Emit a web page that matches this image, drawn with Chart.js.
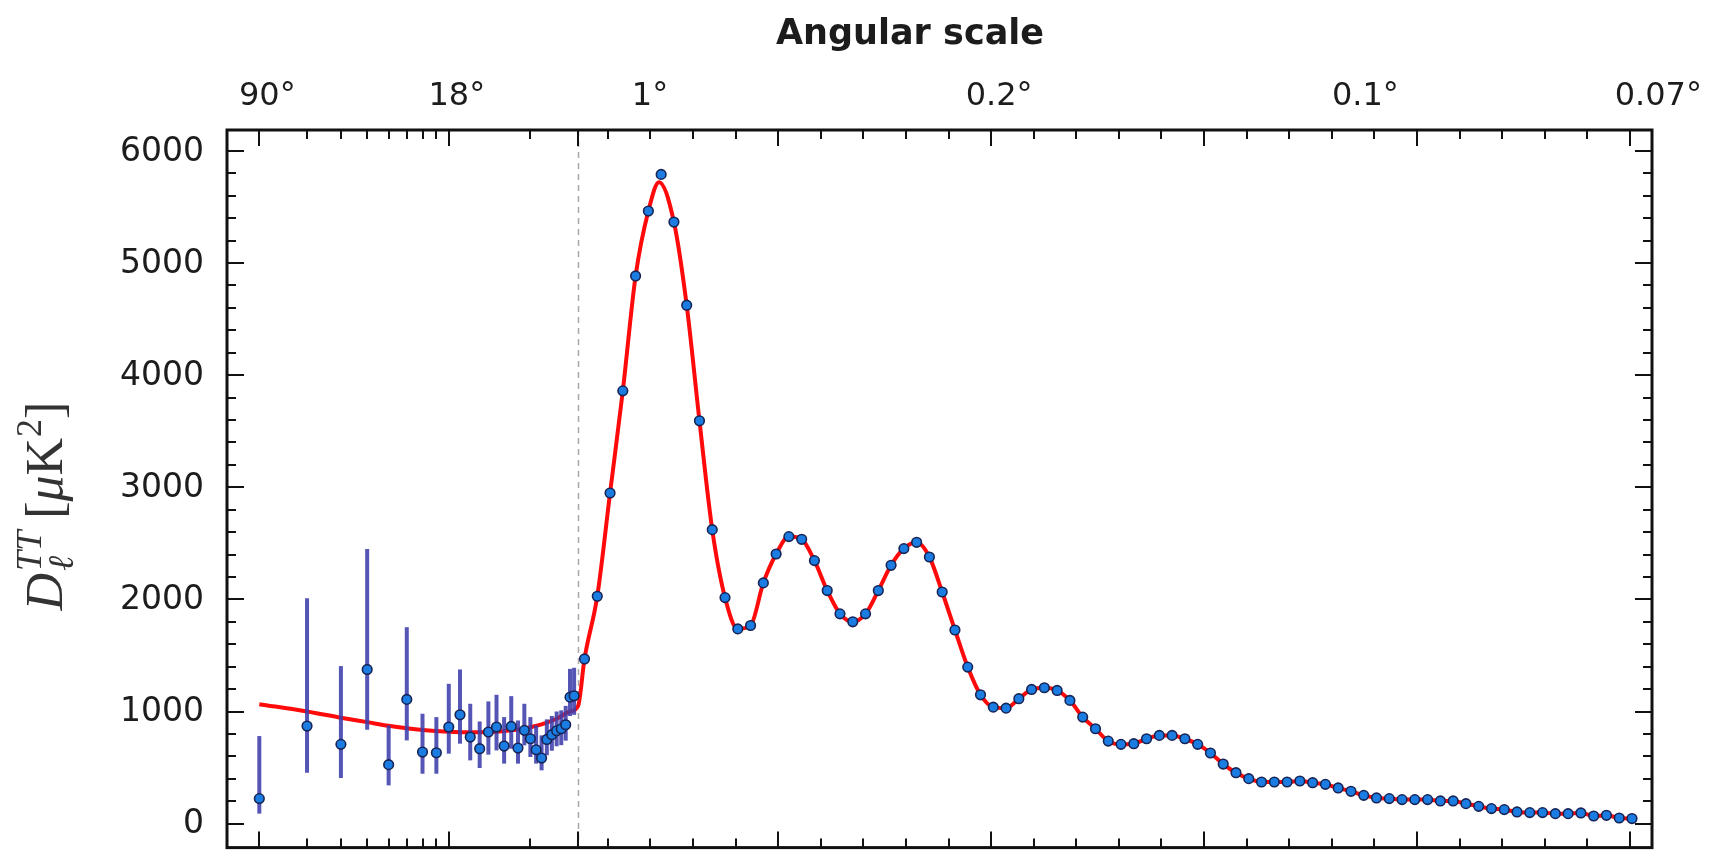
<!DOCTYPE html>
<html>
<head>
<meta charset="utf-8">
<title>CMB temperature power spectrum</title>
<script src="https://cdn.jsdelivr.net/npm/chart.js@4.4.1/dist/chart.umd.min.js"></script>
<style>
  html, body { margin: 0; padding: 0; background: #fff; }
  #wrap { width: 1734px; height: 854px; }
  canvas { display: block; }
</style>
</head>
<body>
<div id="wrap"><canvas id="spectrum" width="1734" height="854"></canvas></div>
<script>
// ---------------------------------------------------------------
// Low multipoles: one point per ℓ, with asymmetric error bars
// ---------------------------------------------------------------
const ellLow = [2, 3, 4, 5, 6, 7, 8, 9, 10, 11, 12, 13, 14, 15, 16, 17, 18, 19, 20, 21, 22, 23, 24, 25, 26, 27, 28, 29];
const dLow = [223, 870, 707, 1375, 526, 1108, 638, 632, 861, 971, 772, 668, 817, 861, 692, 867, 674, 832, 757, 659, 585, 751, 793, 828, 846, 882, 1128, 1140];
const dLowBottom = [89, 454, 407, 837, 341, 742, 445, 445, 624, 713, 564, 496, 615, 653, 535, 668, 535, 698, 594, 535, 475, 610, 650, 690, 700, 740, 960, 970];
const dLowTop = [781, 2011, 1405, 2450, 876, 1752, 980, 950, 1247, 1375, 1069, 911, 1090, 1149, 950, 1137, 920, 1069, 950, 876, 787, 930, 960, 1000, 1010, 1050, 1380, 1390];

// ---------------------------------------------------------------
// High multipoles: band powers in bins of width Δℓ = 30
// ---------------------------------------------------------------
const ellBinned = [45, 75, 105, 135, 165, 195, 225, 255, 285, 315, 345, 375, 405, 435, 465, 495, 525, 555, 585, 615,
  645, 675, 705, 735, 765, 795, 825, 855, 885, 915, 945, 975, 1005, 1035, 1065, 1095, 1125, 1155, 1185, 1215,
  1245, 1275, 1305, 1335, 1365, 1395, 1425, 1455, 1485, 1515, 1545, 1575, 1605, 1635, 1665, 1695, 1725, 1755, 1785, 1815,
  1845, 1875, 1905, 1935, 1965, 1995, 2025, 2055, 2085, 2115, 2145, 2175, 2205, 2235, 2265, 2295, 2325, 2355, 2385, 2415,
  2445, 2475, 2505];
const dBinned = [1469, 2028, 2949, 3860, 4885, 5464, 5791, 5366, 4624, 3593, 2622, 2016, 1737, 1767, 2147, 2405, 2560, 2536, 2346, 2079,
  1871, 1800, 1871, 2079, 2304, 2453, 2509, 2378, 2066, 1727, 1396, 1149, 1039, 1030, 1114, 1197, 1212, 1188, 1099, 950,
  846, 736, 707, 713, 757, 787, 787, 757, 707, 630, 531, 454, 401, 371, 371, 371, 380, 365, 350, 318,
  288, 252, 229, 223, 214, 214, 214, 202, 202, 178, 154, 134, 125, 104, 98, 98, 89, 89, 95, 68,
  74, 50, 45];

// ---------------------------------------------------------------
// Best-fit model spectrum (red curve)
// ---------------------------------------------------------------
const ellModel = [2, 3, 4, 5, 6, 7, 8, 10, 12, 15, 18, 20, 22, 25, 28, 30,
  45, 75, 105, 135, 165, 195, 220, 255, 285, 315, 345, 375, 405, 435, 465, 495, 525, 555, 585, 615,
  645, 675, 705, 735, 765, 795, 825, 855, 885, 915, 945, 975, 1005, 1035, 1065, 1095, 1125, 1155, 1185, 1215,
  1245, 1275, 1305, 1335, 1365, 1395, 1425, 1455, 1485, 1515, 1545, 1575, 1605, 1635, 1665, 1695, 1725, 1755, 1785, 1815,
  1845, 1875, 1905, 1935, 1965, 1995, 2025, 2055, 2085, 2115, 2145, 2175, 2205, 2235, 2265, 2295, 2325, 2355, 2385, 2415,
  2445, 2475, 2505];
const dModel = [1065, 1000, 945, 905, 872, 850, 835, 820, 815, 820, 840, 860, 885, 935, 1000, 1050,
  1469, 2028, 2949, 3860, 4885, 5464, 5722, 5366, 4624, 3593, 2622, 2016, 1737, 1767, 2147, 2405, 2560, 2536, 2346, 2079,
  1871, 1800, 1871, 2079, 2304, 2453, 2509, 2378, 2066, 1727, 1396, 1149, 1039, 1030, 1114, 1197, 1212, 1188, 1099, 950,
  846, 736, 707, 713, 757, 787, 787, 757, 707, 630, 531, 454, 401, 371, 371, 371, 380, 365, 350, 318,
  288, 252, 229, 223, 214, 214, 214, 202, 202, 178, 154, 134, 125, 104, 98, 98, 89, 89, 95, 68,
  74, 50, 45];

// ---------------------------------------------------------------
// Axis definitions
// ---------------------------------------------------------------
const yTickValues = [0, 1000, 2000, 3000, 4000, 5000, 6000];
const angularLabels = ['90', '18', '1', '0.2', '0.1', '0.07'];
const angularEll = [2, 10, 180, 1000, 1860, 2548];
const xMajorTicks = [2, 10, 30, 500, 1000, 1500, 2000, 2500];
const xMinorTicks = [3, 4, 5, 6, 7, 8, 9, 20, 100, 200, 300, 400, 600, 700, 800, 900, 1100, 1200, 1300, 1400,
  1600, 1700, 1800, 1900, 2100, 2200, 2300, 2400];

const ELL_RANGE = [1.52, 2552];   // multipole range of the horizontal axis
const Y_RANGE = [-214, 6187];     // D_ℓ range of the vertical axis
const ELL_SPLIT = 30;             // log scale below, linear scale above
const DECADE_SPAN = 636.6;        // width of one decade of the log part, in linear-ℓ units

function warpEll(ell) {
  return ell >= ELL_SPLIT ? ell : ELL_SPLIT + DECADE_SPAN * Math.log10(ell / ELL_SPLIT);
}
function unwarpEll(u) {
  return u >= ELL_SPLIT ? u : ELL_SPLIT * Math.pow(10, (u - ELL_SPLIT) / DECADE_SPAN);
}

// Horizontal scale: logarithmic for ℓ < 30, linear for ℓ ≥ 30
class SplitLogLinearScale extends Chart.LinearScale {
  determineDataLimits() {
    this.min = warpEll(ELL_RANGE[0]);
    this.max = warpEll(ELL_RANGE[1]);
  }
  buildTicks() {
    return [{ value: this.min }, { value: this.max }];
  }
  getPixelForValue(value) {
    return super.getPixelForValue(warpEll(value));
  }
  getValueForPixel(pixel) {
    return unwarpEll(super.getValueForPixel(pixel));
  }
}
SplitLogLinearScale.id = 'splitLogLinear';
SplitLogLinearScale.defaults = {};
Chart.register(SplitLogLinearScale);

// ---------------------------------------------------------------
// Frame, ticks, labels and error bars
// ---------------------------------------------------------------
const TEXT_COLOR = '#1c1c1c';

const decorations = {
  id: 'decorations',
  beforeDraw(chart) {
    const ctx = chart.ctx;
    ctx.save();
    ctx.fillStyle = '#ffffff';
    ctx.fillRect(0, 0, chart.width, chart.height);
    ctx.restore();
  },
  beforeDatasetsDraw(chart) {
    const { ctx, chartArea: a, scales: { x } } = chart;
    const px = Math.round(x.getPixelForValue(ELL_SPLIT)) + 0.5;
    ctx.save();
    ctx.strokeStyle = '#a8a8a8';
    ctx.lineWidth = 1.5;
    ctx.setLineDash([6, 5]);
    ctx.beginPath();
    ctx.moveTo(px, a.top);
    ctx.lineTo(px, a.bottom);
    ctx.stroke();
    ctx.restore();
  },
  afterDatasetDraw(chart, args) {
    if (args.index !== 0) return;
    const { ctx, scales: { x, y } } = chart;
    ctx.save();
    ctx.strokeStyle = 'rgba(62, 62, 172, 0.88)';
    ctx.lineWidth = 4;
    ellLow.forEach((ell, i) => {
      const px = x.getPixelForValue(ell);
      ctx.beginPath();
      ctx.moveTo(px, y.getPixelForValue(dLowBottom[i]));
      ctx.lineTo(px, y.getPixelForValue(dLowTop[i]));
      ctx.stroke();
    });
    ctx.restore();
  },
  afterDraw(chart) {
    const { ctx, chartArea: a, scales: { x, y } } = chart;
    ctx.save();

    // ticks on all four sides, pointing inward
    ctx.strokeStyle = '#111';
    ctx.lineWidth = 2;
    const xTick = (ell, len) => {
      const px = Math.round(x.getPixelForValue(ell));
      ctx.beginPath();
      ctx.moveTo(px, a.bottom); ctx.lineTo(px, a.bottom - len);
      ctx.moveTo(px, a.top); ctx.lineTo(px, a.top + len);
      ctx.stroke();
    };
    xMajorTicks.forEach(v => xTick(v, 16));
    xMinorTicks.forEach(v => xTick(v, 9));
    for (let v = 0; v <= 6000; v += 200) {
      const py = Math.round(y.getPixelForValue(v));
      const len = v % 1000 === 0 ? 17 : 9;
      ctx.beginPath();
      ctx.moveTo(a.left, py); ctx.lineTo(a.left + len, py);
      ctx.moveTo(a.right, py); ctx.lineTo(a.right - len, py);
      ctx.stroke();
    }

    // frame
    ctx.lineWidth = 3;
    ctx.strokeStyle = '#111';
    ctx.strokeRect(a.left, a.top, a.right - a.left, a.bottom - a.top);

    // vertical tick labels
    ctx.fillStyle = TEXT_COLOR;
    ctx.font = '33px "DejaVu Sans"';
    ctx.textAlign = 'right';
    ctx.textBaseline = 'middle';
    yTickValues.forEach(v => {
      ctx.fillText(String(v), a.left - 23, y.getPixelForValue(v) + 1);
    });

    // angular-scale labels along the top
    ctx.font = '32px "DejaVu Sans"';
    ctx.textBaseline = 'alphabetic';
    angularLabels.forEach((lab, i) => {
      const px = x.getPixelForValue(angularEll[i]);
      const w = ctx.measureText(lab).width;
      ctx.textAlign = 'left';
      ctx.fillText(lab + '°', px - w / 2, 105);
    });

    // top title
    ctx.font = 'bold 35px "DejaVu Sans"';
    ctx.textAlign = 'center';
    ctx.fillText('Angular scale', 910, 44);

    // vertical axis title: D_ℓ^TT [μK²]
    ctx.save();
    ctx.translate(45, 506);
    ctx.rotate(-Math.PI / 2);
    ctx.fillStyle = '#333';
    ctx.textAlign = 'left';
    ctx.textBaseline = 'alphabetic';
    const big = 52, small = 36;
    const fD = `italic ${big}px "Liberation Serif"`;
    const fSup = `italic ${small}px "Liberation Serif"`;
    const fUp = `${big}px "Liberation Serif"`;
    const fMu = `italic ${big}px "Liberation Serif"`;
    const fSmallUp = `${small}px "Liberation Serif"`;
    const measure = (txt, font) => { ctx.font = font; return ctx.measureText(txt).width; };
    const wD = measure('D', fD);
    const wTT = measure('TT', fSup);
    const wL = measure('ℓ', fSup);
    const wScript = Math.max(wTT, wL);
    const wOpen = measure('[', fUp);
    const wMu = measure('μ', fMu);
    const wK = measure('K', fUp);
    const w2 = measure('2', fSmallUp);
    const wClose = measure(']', fUp);
    const gap = 12;
    const total = wD + 2 + wScript + gap + wOpen + wMu + wK + 1 + w2 + wClose;
    let cx = -total / 2;
    const base = 17;
    ctx.font = fD; ctx.fillText('D', cx, base); cx += wD + 2;
    ctx.font = fSup; ctx.fillText('TT', cx, base - 21); ctx.fillText('ℓ', cx, base + 11); cx += wScript + gap;
    ctx.font = fUp; ctx.fillText('[', cx, base); cx += wOpen;
    ctx.font = fMu; ctx.fillText('μ', cx, base); cx += wMu;
    ctx.font = fUp; ctx.fillText('K', cx, base); cx += wK + 1;
    ctx.font = fSmallUp; ctx.fillText('2', cx, base - 21); cx += w2;
    ctx.font = fUp; ctx.fillText(']', cx, base);
    ctx.restore();

    ctx.restore();
  }
};

// ---------------------------------------------------------------
// Chart
// ---------------------------------------------------------------
const modelPoints = ellModel.map((ell, i) => ({ x: ell, y: dModel[i] }));
const dataPoints = ellLow.map((ell, i) => ({ x: ell, y: dLow[i] }))
  .concat(ellBinned.map((ell, i) => ({ x: ell, y: dBinned[i] })));

new Chart(document.getElementById('spectrum'), {
  type: 'scatter',
  data: {
    datasets: [
      {
        type: 'line',
        label: 'Best-fit model',
        data: modelPoints,
        borderColor: '#ff0a0a',
        borderWidth: 4,
        pointRadius: 0,
        cubicInterpolationMode: 'monotone',
        fill: false,
        order: 2
      },
      {
        label: 'Measured D_ℓ',
        data: dataPoints,
        backgroundColor: '#1b7de2',
        borderColor: '#172456',
        borderWidth: 1.6,
        pointRadius: 4.8,
        order: 1
      }
    ]
  },
  options: {
    responsive: false,
    devicePixelRatio: 1,
    animation: false,
    events: [],
    layout: { padding: { left: 227, right: 82, top: 130, bottom: 5 } },
    plugins: { legend: { display: false }, tooltip: { enabled: false } },
    scales: {
      x: { type: 'splitLogLinear', display: false, bounds: 'data' },
      y: { type: 'linear', display: false, min: Y_RANGE[0], max: Y_RANGE[1] }
    }
  },
  plugins: [decorations]
});
</script>
</body>
</html>
